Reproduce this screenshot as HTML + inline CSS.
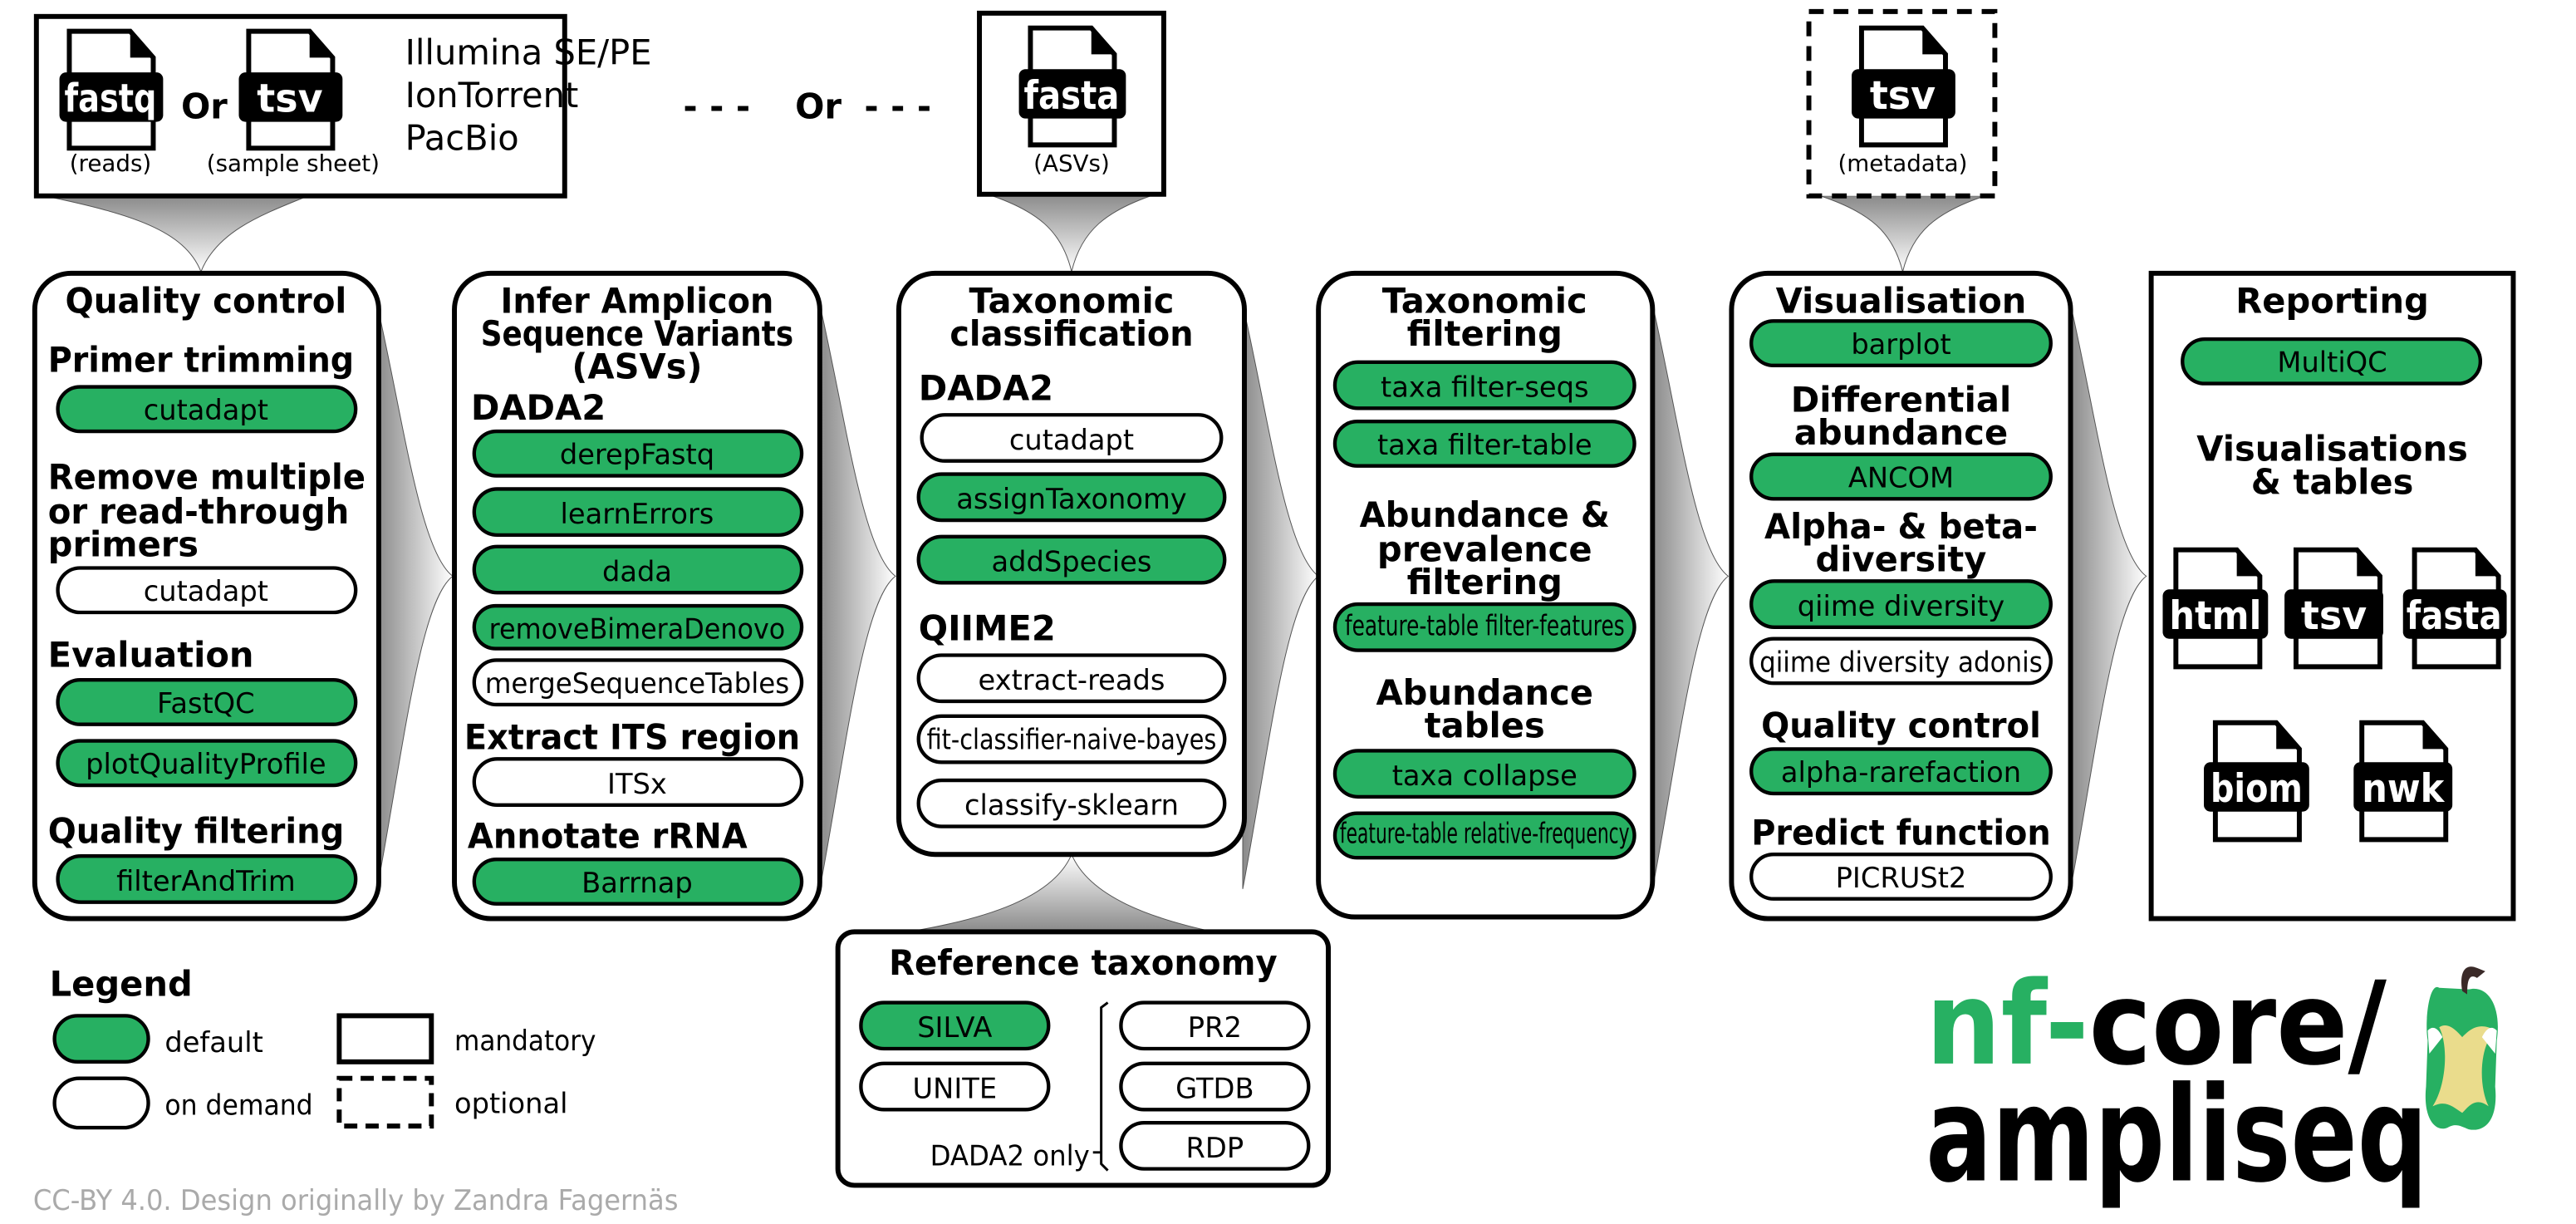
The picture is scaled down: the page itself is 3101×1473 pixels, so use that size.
<!DOCTYPE html>
<html><head><meta charset="utf-8"><style>
html,body{margin:0;padding:0;background:#fff;}
svg{display:block;}
text{font-family:"DejaVu Sans","Liberation Sans",sans-serif;}
.h{font-weight:bold;font-size:21px;}
.hc{font-weight:bold;font-size:21px;text-anchor:middle;}
.p{font-size:17px;text-anchor:middle;}
.g{fill:#27b062;stroke:#000;stroke-width:2.2;}
.w{fill:#fff;stroke:#000;stroke-width:2.2;}
.box{fill:#fff;stroke:#000;stroke-width:3;}
.lbl{font-weight:bold;font-size:24px;fill:#fff;text-anchor:middle;}
.cap{font-size:14px;text-anchor:middle;}
</style></head><body>
<svg width="3101" height="1473" viewBox="0 0 1565 743.5" xmlns="http://www.w3.org/2000/svg">
<defs>
<linearGradient id="gv" x1="0" y1="0" x2="0" y2="1"><stop offset="0" stop-color="#8a8a8a"/><stop offset="1" stop-color="#fff"/></linearGradient>
<linearGradient id="gv2" x1="0" y1="1" x2="0" y2="0"><stop offset="0" stop-color="#8a8a8a"/><stop offset="1" stop-color="#fff"/></linearGradient>
<linearGradient id="gh" x1="0" y1="0" x2="1" y2="0"><stop offset="0" stop-color="#8a8a8a"/><stop offset="1" stop-color="#fff"/></linearGradient>
<g id="doc"><path d="M0,0 H37 L51,16 V71 H0 Z" fill="#fff" stroke="#000" stroke-width="3"/><path d="M37,0 V16 H51 Z" fill="#000"/></g>
<path id="side" d="M0,20 C16,90 26,170 46,185 C26,200 16,290 0,375 Z" fill="url(#gh)" stroke="#555" stroke-width="0.5"/>
</defs>

<path d="M27,119 C80,130 112,140 122,165 C132,140 160,130 187,119 Z" fill="url(#gv)" stroke="#555" stroke-width="0.5"/>
<path d="M600,118 C630,128 645,140 651,165 C657,140 672,128 702,118 Z" fill="url(#gv)" stroke="#555" stroke-width="0.5"/>
<path d="M1106,119 C1136,129 1150,141 1156,165 C1162,141 1176,129 1206,119 Z" fill="url(#gv)" stroke="#555" stroke-width="0.5"/>
<path d="M651,519 C640,545 600,558 552,566 L737,566 C700,558 662,545 651,519 Z" fill="url(#gv2)" stroke="#555" stroke-width="0.5"/>
<use href="#side" x="229" y="165"/>
<use href="#side" x="498" y="165"/>
<use href="#side" x="755" y="165"/>
<use href="#side" x="1004" y="165"/>
<use href="#side" x="1258" y="165"/>

<rect class="box" x="22" y="10" width="321" height="109"/>
<use href="#doc" x="42" y="19"/>
<rect x="36" y="44" width="63" height="30" rx="4" fill="#000"/>
<text class="lbl" x="67" y="68" textLength="56" lengthAdjust="spacingAndGlyphs">fastq</text>
<text class="cap" x="67" y="104">(reads)</text>
<text x="124" y="72" font-size="21" font-weight="bold" text-anchor="middle">Or</text>
<use href="#doc" x="151" y="19"/>
<rect x="145" y="44" width="63" height="30" rx="4" fill="#000"/>
<text class="lbl" x="176" y="68" textLength="40" lengthAdjust="spacingAndGlyphs">tsv</text>
<text class="cap" x="178" y="104">(sample sheet)</text>
<text x="246" y="39" font-size="21">Illumina SE/PE</text>
<text x="246" y="65" font-size="21">IonTorrent</text>
<text x="246" y="91" font-size="21">PacBio</text>
<text x="415" y="72" font-size="21" font-weight="bold">- - -</text>
<text x="483" y="72" font-size="21" font-weight="bold">Or</text>
<text x="525" y="72" font-size="21" font-weight="bold">- - -</text>

<rect class="box" x="595" y="8" width="112" height="110"/>
<use href="#doc" x="626" y="17"/>
<rect x="619" y="42" width="65" height="30" rx="4" fill="#000"/>
<text class="lbl" x="651" y="66" textLength="58" lengthAdjust="spacingAndGlyphs">fasta</text>
<text class="cap" x="651" y="104">(ASVs)</text>

<rect class="box" x="1099" y="7" width="113" height="112" stroke-dasharray="9,6"/>
<use href="#doc" x="1131" y="17"/>
<rect x="1125" y="42" width="63" height="30" rx="4" fill="#000"/>
<text class="lbl" x="1156" y="66" textLength="40" lengthAdjust="spacingAndGlyphs">tsv</text>
<text class="cap" x="1156" y="104">(metadata)</text>

<!-- Column 1 -->
<rect class="box" x="21" y="166" width="209" height="392" rx="22"/>
<text class="hc" x="125" y="190" textLength="171" lengthAdjust="spacingAndGlyphs">Quality control</text>
<text class="h" x="29" y="226" textLength="186" lengthAdjust="spacingAndGlyphs">Primer trimming</text>
<rect class="g" x="35" y="235" width="181" height="27" rx="13.5"/><text class="p" x="125" y="255">cutadapt</text>
<text class="h" x="29" y="297" textLength="193" lengthAdjust="spacingAndGlyphs">Remove multiple</text>
<text class="h" x="29" y="318" textLength="183" lengthAdjust="spacingAndGlyphs">or read-through</text>
<text class="h" x="29" y="338">primers</text>
<rect class="w" x="35" y="345" width="181" height="27" rx="13.5"/><text class="p" x="125" y="365">cutadapt</text>
<text class="h" x="29" y="405">Evaluation</text>
<rect class="g" x="35" y="413" width="181" height="27" rx="13.5"/><text class="p" x="125" y="433">FastQC</text>
<rect class="g" x="35" y="450" width="181" height="27" rx="13.5"/><text class="p" x="125" y="470">plotQualityProfile</text>
<text class="h" x="29" y="512" textLength="180" lengthAdjust="spacingAndGlyphs">Quality filtering</text>
<rect class="g" x="35" y="520" width="181" height="28" rx="14"/><text class="p" x="125" y="541">filterAndTrim</text>

<!-- Column 2 -->
<rect class="box" x="276" y="166" width="222" height="392" rx="22"/>
<text class="hc" x="387" y="190" textLength="166" lengthAdjust="spacingAndGlyphs">Infer Amplicon</text>
<text class="hc" x="387" y="210" textLength="190" lengthAdjust="spacingAndGlyphs">Sequence Variants</text>
<text class="hc" x="387" y="230">(ASVs)</text>
<text class="h" x="286" y="255">DADA2</text>
<rect class="g" x="288" y="262" width="199" height="27" rx="13.5"/><text class="p" x="387" y="282">derepFastq</text>
<rect class="g" x="288" y="297" width="199" height="28" rx="14"/><text class="p" x="387" y="318">learnErrors</text>
<rect class="g" x="288" y="332" width="199" height="28" rx="14"/><text class="p" x="387" y="353">dada</text>
<rect class="g" x="288" y="368" width="199" height="26" rx="13"/><text class="p" x="387" y="388" textLength="180" lengthAdjust="spacingAndGlyphs">removeBimeraDenovo</text>
<rect class="w" x="288" y="401" width="199" height="27" rx="13.5"/><text class="p" x="387" y="421" textLength="185" lengthAdjust="spacingAndGlyphs">mergeSequenceTables</text>
<text class="h" x="282" y="455" textLength="204" lengthAdjust="spacingAndGlyphs">Extract ITS region</text>
<rect class="w" x="288" y="461" width="199" height="28" rx="14"/><text class="p" x="387" y="482">ITSx</text>
<text class="h" x="284" y="515" textLength="170" lengthAdjust="spacingAndGlyphs">Annotate rRNA</text>
<rect class="g" x="288" y="522" width="199" height="27" rx="13.5"/><text class="p" x="387" y="542">Barrnap</text>

<!-- Column 3 -->
<rect class="box" x="546" y="166" width="210" height="353" rx="22"/>
<text class="hc" x="651" y="190">Taxonomic</text>
<text class="hc" x="651" y="210" textLength="148" lengthAdjust="spacingAndGlyphs">classification</text>
<text class="h" x="558" y="243">DADA2</text>
<rect class="w" x="560" y="252" width="182" height="28" rx="14"/><text class="p" x="651" y="273">cutadapt</text>
<rect class="g" x="558" y="288" width="186" height="28" rx="14"/><text class="p" x="651" y="309">assignTaxonomy</text>
<rect class="g" x="558" y="326" width="186" height="28" rx="14"/><text class="p" x="651" y="347">addSpecies</text>
<text class="h" x="558" y="389">QIIME2</text>
<rect class="w" x="558" y="398" width="186" height="28" rx="14"/><text class="p" x="651" y="419">extract-reads</text>
<rect class="w" x="558" y="435" width="186" height="28" rx="14"/><text class="p" x="651" y="455" font-size="15" textLength="176" lengthAdjust="spacingAndGlyphs">fit-classifier-naive-bayes</text>
<rect class="w" x="558" y="474" width="186" height="28" rx="14"/><text class="p" x="651" y="495">classify-sklearn</text>

<!-- Column 4 -->
<rect class="box" x="801" y="166" width="203" height="391" rx="22"/>
<text class="hc" x="902" y="190">Taxonomic</text>
<text class="hc" x="902" y="210">filtering</text>
<rect class="g" x="811" y="220" width="182" height="28" rx="14"/><text class="p" x="902" y="241">taxa filter-seqs</text>
<rect class="g" x="811" y="256" width="182" height="27" rx="13.5"/><text class="p" x="902" y="276">taxa filter-table</text>
<text class="hc" x="902" y="320" textLength="152" lengthAdjust="spacingAndGlyphs">Abundance &amp;</text>
<text class="hc" x="902" y="341">prevalence</text>
<text class="hc" x="902" y="361">filtering</text>
<rect class="g" x="811" y="367" width="182" height="28" rx="14"/><text class="p" x="902" y="386" font-size="13" textLength="170" lengthAdjust="spacingAndGlyphs">feature-table filter-features</text>
<text class="hc" x="902" y="428">Abundance</text>
<text class="hc" x="902" y="448">tables</text>
<rect class="g" x="811" y="456" width="182" height="28" rx="14"/><text class="p" x="902" y="477">taxa collapse</text>
<rect class="g" x="811" y="494" width="182" height="27" rx="13.5"/><text class="p" x="902" y="512" font-size="12" textLength="176" lengthAdjust="spacingAndGlyphs">feature-table relative-frequency</text>

<!-- Column 5 -->
<rect class="box" x="1052" y="166" width="206" height="392" rx="22"/>
<text class="hc" x="1155" y="190">Visualisation</text>
<rect class="g" x="1064" y="195" width="182" height="27" rx="13.5"/><text class="p" x="1155" y="215">barplot</text>
<text class="hc" x="1155" y="250">Differential</text>
<text class="hc" x="1155" y="270">abundance</text>
<rect class="g" x="1064" y="276" width="182" height="27" rx="13.5"/><text class="p" x="1155" y="296">ANCOM</text>
<text class="hc" x="1155" y="327" textLength="166" lengthAdjust="spacingAndGlyphs">Alpha- &amp; beta-</text>
<text class="hc" x="1155" y="347">diversity</text>
<rect class="g" x="1064" y="353" width="182" height="28" rx="14"/><text class="p" x="1155" y="374">qiime diversity</text>
<rect class="w" x="1064" y="388" width="182" height="27" rx="13.5"/><text class="p" x="1155" y="408" textLength="172" lengthAdjust="spacingAndGlyphs">qiime diversity adonis</text>
<text class="hc" x="1155" y="448" textLength="170" lengthAdjust="spacingAndGlyphs">Quality control</text>
<rect class="g" x="1064" y="455" width="182" height="27" rx="13.5"/><text class="p" x="1155" y="475">alpha-rarefaction</text>
<text class="hc" x="1155" y="513" textLength="182" lengthAdjust="spacingAndGlyphs">Predict function</text>
<rect class="w" x="1064" y="519" width="182" height="27" rx="13.5"/><text class="p" x="1155" y="539">PICRUSt2</text>

<!-- Column 6 -->
<rect class="box" x="1307" y="166" width="220" height="392"/>
<text class="hc" x="1417" y="190">Reporting</text>
<rect class="g" x="1326" y="206" width="181" height="27" rx="13.5"/><text class="p" x="1417" y="226">MultiQC</text>
<text class="hc" x="1417" y="280">Visualisations</text>
<text class="hc" x="1417" y="300">&amp; tables</text>
<use href="#doc" x="1322" y="334"/>
<rect x="1314" y="358" width="64" height="30" rx="4" fill="#000"/><text class="lbl" x="1346" y="382" textLength="56" lengthAdjust="spacingAndGlyphs">html</text>
<use href="#doc" x="1395" y="334"/>
<rect x="1388" y="358" width="60" height="30" rx="4" fill="#000"/><text class="lbl" x="1418" y="382" textLength="40" lengthAdjust="spacingAndGlyphs">tsv</text>
<use href="#doc" x="1467" y="334"/>
<rect x="1460" y="358" width="63" height="30" rx="4" fill="#000"/><text class="lbl" x="1491" y="382" textLength="58" lengthAdjust="spacingAndGlyphs">fasta</text>
<use href="#doc" x="1346" y="439"/>
<rect x="1339" y="463" width="64" height="30" rx="4" fill="#000"/><text class="lbl" x="1371" y="487" textLength="56" lengthAdjust="spacingAndGlyphs">biom</text>
<use href="#doc" x="1435" y="439"/>
<rect x="1430" y="463" width="60" height="30" rx="4" fill="#000"/><text class="lbl" x="1460" y="487" textLength="50" lengthAdjust="spacingAndGlyphs">nwk</text>

<!-- Reference taxonomy -->
<rect class="box" x="509" y="566" width="298" height="154" rx="10"/>
<text class="hc" x="658" y="592" textLength="236" lengthAdjust="spacingAndGlyphs">Reference taxonomy</text>
<rect class="g" x="523" y="609" width="114" height="28" rx="14"/><text class="p" x="580" y="630">SILVA</text>
<rect class="w" x="523" y="646" width="114" height="28" rx="14"/><text class="p" x="580" y="667">UNITE</text>
<rect class="w" x="681" y="609" width="114" height="28" rx="14"/><text class="p" x="738" y="630">PR2</text>
<rect class="w" x="681" y="646" width="114" height="28" rx="14"/><text class="p" x="738" y="667">GTDB</text>
<rect class="w" x="681" y="682" width="114" height="28" rx="14"/><text class="p" x="738" y="703">RDP</text>
<path d="M673,609 L669,612 V707 L673,711 M669,700 H664" fill="none" stroke="#000" stroke-width="1.5"/>
<text x="565" y="708" font-size="17" textLength="97" lengthAdjust="spacingAndGlyphs">DADA2 only</text>

<!-- Legend -->
<text class="h" x="30" y="605">Legend</text>
<rect class="g" x="33" y="617" width="57" height="28" rx="14"/><text x="100" y="639" font-size="17">default</text>
<rect class="w" x="33" y="655" width="57" height="30" rx="15"/><text x="100" y="677" font-size="17" textLength="90" lengthAdjust="spacingAndGlyphs">on demand</text>
<rect class="box" x="206" y="617" width="56" height="28"/><text x="276" y="638" font-size="17" textLength="86" lengthAdjust="spacingAndGlyphs">mandatory</text>
<rect class="box" x="206" y="655" width="56" height="29" stroke-dasharray="8,5"/><text x="276" y="676" font-size="17">optional</text>

<text x="20" y="735" font-size="17" fill="#aaa" textLength="392" lengthAdjust="spacingAndGlyphs">CC-BY 4.0. Design originally by Zandra Fagernäs</text>

<!-- Logo -->
<text x="1170" y="646" font-size="70" font-weight="bold" textLength="280" lengthAdjust="spacingAndGlyphs"><tspan fill="#27b062">nf-</tspan><tspan fill="#000">core/</tspan></text>
<text x="1170" y="717" font-size="80" font-weight="bold" fill="#000" textLength="305" lengthAdjust="spacingAndGlyphs">ampliseq</text>
<g>
<path d="M1482,600 C1476,596 1473,620 1475,632 L1474,660 C1472,680 1480,688 1487,685 C1492,682 1495,684 1500,686 C1510,688 1518,680 1516,660 L1517,632 C1520,612 1512,598 1500,601 Z" fill="#27b062"/>
<path d="M1482,624 C1488,620 1494,628 1496,630 C1500,626 1506,620 1516,626 C1506,636 1506,660 1512,672 C1504,666 1500,672 1496,676 C1490,672 1486,668 1478,672 C1486,660 1488,636 1482,624 Z" fill="#eadc8c"/>
<path d="M1475,626 C1479,622 1482,626 1484,630 L1476,640 Z M1517,626 C1513,622 1510,626 1508,630 L1516,640 Z" fill="#fff"/>
<path d="M1496,602 C1494,590 1498,585 1505,588 L1510,590 L1505,594 C1500,591 1499,596 1499,604 Z" fill="#3a2a28"/>
</g>
</svg>
</body></html>
